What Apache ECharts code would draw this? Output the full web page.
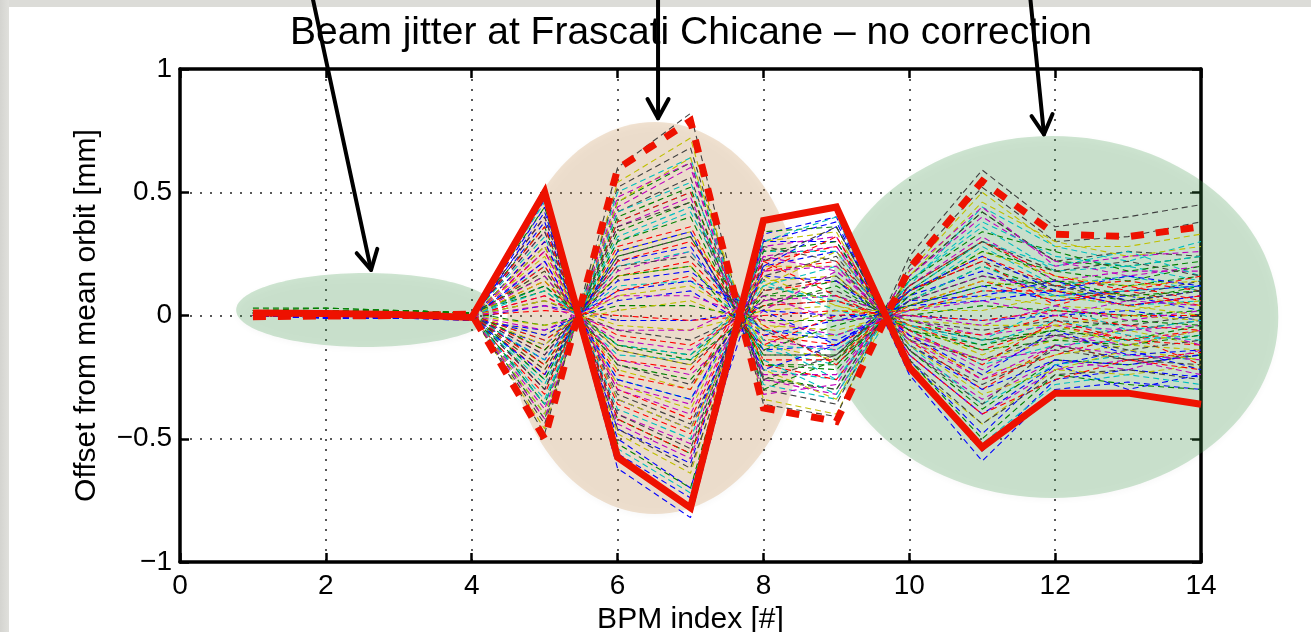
<!DOCTYPE html>
<html>
<head>
<meta charset="utf-8">
<script src="https://cdn.jsdelivr.net/npm/echarts@6/dist/echarts.min.js"></script>
<style>
html,body{margin:0;padding:0;background:#fff;width:1311px;height:632px;overflow:hidden;}
#edgeTop{position:absolute;left:0;top:0;width:1311px;height:7px;background:#dcdcd8;}
#edgeLeft{position:absolute;left:0;top:0;width:9px;height:632px;background:linear-gradient(to right,#d4d4d0,#e0e0dc);}
#chart{position:absolute;left:0;top:0;width:1311px;height:632px;}
</style>
</head>
<body>
<div id="edgeTop"></div><div id="edgeLeft"></div>
<div id="chart"></div>
<script>
// ---------- data ----------
const bpmIndex = [1,2,3,4,5,6,7,8,9,10,11,12,13,14];
const xTicks = [0,2,4,6,8,10,12,14];
const xTickLabels = ['0','2','4','6','8','10','12','14'];
const yTicks = [-1,-0.5,0,0.5,1];
const yTickLabels = ['\u22121','\u22120.5','0','0.5','1'];

// thick red envelopes
const envelopeSolid  = [0.010,0.008,0.004,-0.008, 0.50,-0.575,-0.78, 0.385, 0.44,-0.21,-0.535,-0.315,-0.315,-0.36];
const envelopeDashed = [-0.005,-0.002,0.000,0.006,-0.50, 0.595, 0.79,-0.375,-0.43, 0.19, 0.545, 0.33, 0.32, 0.36];

// individual jitter traces (thin dashed)
const jit01 = [0.01,0.01,0.00,-0.01, 0.47,-0.62,-0.82, 0.33, 0.40,-0.24,-0.59,-0.30,-0.27,-0.30];
const jit02 = [0.02,0.02,0.02,0.01,-0.42, 0.46, 0.62,-0.25,-0.30, 0.16, 0.42, 0.22, 0.20, 0.24];
const jit03 = [0.00,0.00,-0.01,-0.01, 0.30,-0.36,-0.48, 0.22, 0.28,-0.10,-0.30,-0.12,-0.18,-0.15];
const jit04 = [0.01,0.01,0.01,0.00,-0.40, 0.50, 0.64,-0.28,-0.34, 0.12, 0.44, 0.28, 0.22, 0.30];
const jit05 = [0.01,0.00,0.00,0.00, 0.22,-0.28,-0.36, 0.24, 0.18,-0.06,-0.22,-0.08,-0.12,-0.06];
const jit06 = [0.01,0.01,0.01,0.00,-0.46, 0.54, 0.72,-0.34,-0.40, 0.18, 0.50, 0.28, 0.28, 0.33];
const jit07 = [0.01,0.01,0.01,0.01,-0.48, 0.60, 0.82,-0.36,-0.41, 0.24, 0.59, 0.36, 0.40, 0.45];
const jit08 = [0.00,-0.01,-0.01,-0.01, 0.44,-0.56,-0.74, 0.30, 0.38,-0.22,-0.55,-0.26,-0.22,-0.25];
const jit09 = [0.02,0.02,0.01,0.01,-0.30, 0.34, 0.46,-0.20,-0.22, 0.10, 0.30, 0.14, 0.12, 0.16];
const jit10 = [0.00,0.00,0.00,-0.01, 0.26,-0.30,-0.42, 0.18, 0.22,-0.08,-0.26,-0.16,-0.08,-0.20];
const jit11 = [0.01,0.00,0.00,0.00,-0.26, 0.30, 0.42,-0.14,-0.20, 0.08, 0.28, 0.12, 0.16, 0.10];
const jit12 = [0.00,0.00,0.00,0.00, 0.34,-0.40,-0.52, 0.24, 0.28,-0.14,-0.34,-0.18,-0.22,-0.14];
const jit13 = [0.01,0.01,0.00,0.00, 0.40,-0.48,-0.64, 0.30, 0.34,-0.20,-0.44,-0.22,-0.24,-0.20];
const jit14 = [0.01,0.01,0.01,0.00,-0.36, 0.42, 0.56,-0.26,-0.30, 0.16, 0.42, 0.22, 0.26, 0.24];
const jit15 = [0.00,-0.01,-0.01,-0.01, 0.38,-0.46,-0.60, 0.30, 0.30,-0.16,-0.40,-0.20,-0.14,-0.22];
const jit16 = [0.02,0.02,0.01,0.01,-0.20, 0.24, 0.32,-0.16,-0.16, 0.06, 0.20, 0.10, 0.06, 0.12];
const jit17 = [0.00,0.00,0.00,0.00, 0.14,-0.18,-0.22, 0.10, 0.14,-0.04,-0.14,-0.04,-0.10,-0.06];
const jit18 = [0.01,0.01,0.00,0.00,-0.34, 0.38, 0.50,-0.22,-0.26, 0.14, 0.36, 0.18, 0.20, 0.14];
const jit19 = [0.00,0.00,0.00,0.00,-0.16, 0.18, 0.26,-0.10,-0.14, 0.06, 0.16, 0.10, 0.04, 0.08];
const jit20 = [0.01,0.00,0.00,0.00, 0.18,-0.22,-0.30, 0.14, 0.16,-0.08,-0.18,-0.10,-0.06,-0.12];
const jit21 = [0.01,0.01,0.01,0.00, 0.28,-0.32,-0.44, 0.16, 0.24,-0.12,-0.28,-0.14,-0.18,-0.16];
const jit22 = [0.00,0.00,-0.01,-0.01,-0.12, 0.14, 0.18,-0.06,-0.10, 0.04, 0.12, 0.06, 0.08, 0.02];
const jit23 = [0.02,0.02,0.02,0.01, 0.10,-0.12,-0.16, 0.08, 0.08,-0.02,-0.10,-0.06,-0.02,-0.04];
const jit24 = [0.00,0.00,0.00,0.00,-0.24, 0.28, 0.36,-0.18,-0.18, 0.10, 0.24, 0.12, 0.14, 0.10];
const jit25 = [0.01,0.01,0.01,0.00, 0.20,-0.26,-0.34, 0.12, 0.20,-0.06,-0.20,-0.12,-0.10,-0.08];
const jit26 = [0.00,0.00,0.00,0.00,-0.30, 0.36, 0.48,-0.24,-0.24, 0.12, 0.32, 0.14, 0.18, 0.18];
const jit27 = [0.01,0.01,0.00,0.00,-0.08, 0.08, 0.12,-0.04,-0.06, 0.02, 0.08, 0.04, 0.02, 0.06];
const jit28 = [0.01,0.01,0.01,0.00, 0.06,-0.06,-0.10, 0.04, 0.06,-0.02,-0.06,-0.02,-0.04, 0.00];
const jit29 = [0.00,0.00,-0.01,-0.01, 0.04,-0.02,-0.02, 0.02, 0.00, 0.00,-0.02, 0.00, 0.02,-0.02];
const jit30 = [0.02,0.02,0.01,0.01,-0.04, 0.04, 0.04,-0.02,-0.02, 0.00, 0.04, 0.02, 0.00, 0.02];
const jit31 = [0.00,0.00,0.00,0.00, 0.02, 0.00,-0.02, 0.00, 0.02, 0.00,-0.02, 0.02, 0.00, 0.00];
const jit32 = [0.01,0.01,0.00,0.00, 0.32,-0.38,-0.50, 0.26, 0.26,-0.12,-0.36,-0.20,-0.16,-0.18];
const jit33 = [0.00,0.00,0.00,0.00, 0.40,-0.44,-0.58, 0.28, 0.32,-0.16,-0.40,-0.22,-0.18,-0.24];
const jit34 = [0.01,0.01,0.01,0.00,-0.22, 0.26, 0.34,-0.12,-0.18, 0.08, 0.26, 0.16, 0.12, 0.14];
const jit35 = [0.01,0.01,0.00,0.00, 0.12,-0.14,-0.20, 0.06, 0.10,-0.04,-0.10,-0.08,-0.06,-0.02];
const jit36 = [0.00,-0.01,-0.01,-0.01,-0.18, 0.22, 0.28,-0.14,-0.12, 0.08, 0.18, 0.08, 0.10, 0.12];
const jit37 = [0.02,0.02,0.01,0.01, 0.36,-0.42,-0.56, 0.26, 0.30,-0.14,-0.38,-0.18,-0.20,-0.16];
const jit38 = [0.00,0.00,0.00,0.00,-0.14, 0.16, 0.22,-0.08,-0.12, 0.04, 0.14, 0.06, 0.10, 0.04];
const jit39 = [0.01,0.01,0.01,0.00,-0.10, 0.12, 0.14,-0.06,-0.08, 0.02, 0.10, 0.08, 0.04, 0.06];
const jit40 = [0.00,0.00,0.00,0.00, 0.08,-0.10,-0.14, 0.06, 0.08,-0.02,-0.08,-0.04,-0.06,-0.04];
const jit41 = [0.01,0.01,0.00,0.00, 0.24,-0.28,-0.38, 0.20, 0.20,-0.10,-0.24,-0.16,-0.12,-0.14];
const jit42 = [0.01,0.01,0.01,0.00,-0.44, 0.52, 0.68,-0.30,-0.36, 0.20, 0.52, 0.30, 0.32, 0.38];
const jit43 = [0.00,-0.01,-0.01,-0.02,-0.06, 0.06, 0.10,-0.08,-0.02, 0.04, 0.06, 0.10, 0.04, 0.08];
const jit44 = [0.02,0.03,0.02,0.01, 0.16,-0.20,-0.26, 0.08, 0.14,-0.06,-0.14,-0.10,-0.12,-0.08];
const jit45 = [0.00,0.00,0.00,-0.01,-0.32, 0.38, 0.50,-0.20,-0.26, 0.12, 0.30, 0.16, 0.10, 0.16];
const jit46 = [0.01,0.01,0.01,0.00, 0.12,-0.16,-0.18, 0.12, 0.06,-0.04,-0.12,-0.02,-0.08,-0.10];
const jit47 = [0.00,0.00,0.00,0.00,-0.38, 0.44, 0.60,-0.26,-0.32, 0.16, 0.40, 0.22, 0.16, 0.20];
const jit48 = [0.01,0.01,0.00,0.00,-0.12, 0.16, 0.20,-0.10,-0.08, 0.04, 0.14, 0.10, 0.08, 0.04];
const jit49 = [0.01,0.01,0.01,0.00, 0.18,-0.20,-0.28, 0.10, 0.16,-0.10,-0.18,-0.08,-0.14,-0.10];
const jit50 = [0.00,0.00,-0.01,-0.01, 0.30,-0.34,-0.46, 0.20, 0.26,-0.12,-0.30,-0.18,-0.20,-0.16];
const jit51 = [0.02,0.02,0.02,0.01,-0.26, 0.30, 0.40,-0.20,-0.20, 0.08, 0.26, 0.18, 0.14, 0.20];
const jit52 = [0.00,0.00,0.00,0.00, 0.08,-0.08,-0.12, 0.04, 0.06,-0.04,-0.08, 0.00,-0.04,-0.06];
const jit53 = [0.01,0.01,0.00,0.00,-0.18, 0.20, 0.26,-0.12,-0.14, 0.06, 0.20, 0.08, 0.10, 0.12];
const jit54 = [0.00,0.00,0.00,0.00, 0.26,-0.30,-0.40, 0.18, 0.20,-0.10,-0.26,-0.12,-0.16,-0.18];
const jit55 = [0.01,0.01,0.01,0.00, 0.06,-0.04,-0.06, 0.02, 0.04,-0.02,-0.04,-0.04, 0.00,-0.02];
const jit56 = [0.01,0.01,0.01,0.00,-0.22, 0.24, 0.32,-0.16,-0.16, 0.10, 0.22, 0.12, 0.08, 0.14];
const jit57 = [0.01,0.00,-0.01,-0.02, 0.42,-0.50,-0.70, 0.20, 0.36,-0.18,-0.48,-0.20,-0.30,-0.24];
const jit58 = [0.03,0.03,0.02,0.01,-0.36, 0.40, 0.52,-0.30,-0.18, 0.14, 0.34, 0.26, 0.18, 0.22];
const jit59 = [0.00,0.00,0.00,-0.01, 0.20,-0.24,-0.30, 0.22, 0.08,-0.06,-0.20,-0.02,-0.10,-0.12];
const jit60 = [0.01,0.01,0.01,0.00,-0.28, 0.32, 0.44,-0.10,-0.26, 0.10, 0.30, 0.20, 0.26, 0.16];
const jit61 = [0.00,0.00,0.00,0.00, 0.16,-0.18,-0.24, 0.02, 0.18,-0.08,-0.18,-0.14,-0.04,-0.12];
const jit62 = [0.01,0.01,0.00,0.00,-0.40, 0.46, 0.64,-0.22,-0.34, 0.16, 0.46, 0.30, 0.24, 0.28];
const jit63 = [0.01,0.01,0.01,0.00, 0.34,-0.40,-0.54, 0.28, 0.22,-0.14,-0.36,-0.12,-0.18,-0.20];
const jit64 = [0.00,-0.01,-0.01,-0.01,-0.08, 0.10, 0.14, 0.02,-0.12, 0.06, 0.08, 0.14, 0.06, 0.10];
const jit65 = [0.02,0.02,0.02,0.01, 0.44,-0.52,-0.70, 0.34, 0.36,-0.18,-0.50,-0.24,-0.28,-0.30];
const jit66 = [0.00,0.00,0.00,0.00,-0.20, 0.22, 0.30,-0.04,-0.20, 0.10, 0.22, 0.04, 0.12, 0.06];
const jit67 = [0.01,0.01,0.00,0.00, 0.10,-0.12,-0.16, 0.14, 0.02,-0.04,-0.10, 0.04,-0.06,-0.02];
const jit68 = [0.00,0.00,0.00,0.00,-0.42, 0.48, 0.62,-0.32,-0.28, 0.18, 0.44, 0.20, 0.24, 0.26];
const jit69 = [0.01,0.01,0.01,0.00, 0.28,-0.34,-0.46, 0.12, 0.26,-0.12,-0.32,-0.22,-0.14,-0.18];
const jit70 = [0.01,0.01,0.01,0.00,-0.30, 0.36, 0.46,-0.26,-0.16, 0.12, 0.30, 0.18, 0.22, 0.16];
const jit71 = [0.00,0.00,-0.01,-0.01, 0.22,-0.26,-0.34, 0.16, 0.14,-0.08,-0.24,-0.06,-0.16,-0.14];
const jit72 = [0.02,0.02,0.01,0.01,-0.14, 0.16, 0.20,-0.14,-0.04, 0.04, 0.12, 0.14, 0.08, 0.10];
const jit73 = [0.00,0.00,0.00,0.00, 0.36,-0.42,-0.56, 0.18, 0.32,-0.16,-0.40,-0.26,-0.18,-0.22];
const jit74 = [0.01,0.01,0.01,0.00,-0.36, 0.42, 0.54,-0.18,-0.32, 0.14, 0.38, 0.24, 0.20, 0.24];
const jit75 = [0.00,0.00,0.00,0.00, 0.04,-0.06,-0.06, 0.08,-0.02, 0.00,-0.04, 0.04,-0.02, 0.02];
const jit76 = [0.01,0.01,0.00,0.00,-0.04, 0.02, 0.06,-0.06, 0.02, 0.02, 0.02, 0.08, 0.04, 0.00];
const jit77 = [0.01,0.01,0.01,0.00, 0.40,-0.46,-0.62, 0.22, 0.36,-0.18,-0.44,-0.24,-0.22,-0.26];
const jit78 = [0.00,-0.01,-0.01,-0.01,-0.24, 0.26, 0.34,-0.22,-0.12, 0.10, 0.24, 0.10, 0.16, 0.12];
const jit79 = [0.02,0.02,0.02,0.01, 0.12,-0.12,-0.18, 0.04, 0.12,-0.06,-0.12,-0.06,-0.10,-0.04];
const jit80 = [0.00,0.00,0.00,0.00,-0.10, 0.10, 0.16,-0.12, 0.00, 0.02, 0.10, 0.10, 0.04, 0.08];
const jit81 = [0.01,0.01,0.01,0.00, 0.46,-0.54,-0.72, 0.30, 0.40,-0.20,-0.52,-0.28,-0.24,-0.28];
const jit82 = [0.00,0.00,0.00,0.00,-0.06, 0.08, 0.08,-0.02,-0.08, 0.02, 0.06, 0.00, 0.06, 0.04];
const jit83 = [0.01,0.01,0.00,0.00, 0.14,-0.14,-0.20, 0.16, 0.04,-0.04,-0.16,-0.04,-0.12,-0.06];
const jit84 = [0.01,0.01,0.01,0.00,-0.16, 0.20, 0.24,-0.06,-0.18, 0.06, 0.16, 0.12, 0.06, 0.10];

const jitterTraces = [jit01,jit02,jit03,jit04,jit05,jit06,jit07,jit08,jit09,jit10,jit11,jit12,jit13,jit14,
  jit15,jit16,jit17,jit18,jit19,jit20,jit21,jit22,jit23,jit24,jit25,jit26,jit27,jit28,
  jit29,jit30,jit31,jit32,jit33,jit34,jit35,jit36,jit37,jit38,jit39,jit40,jit41,jit42,
  jit43,jit44,jit45,jit46,jit47,jit48,jit49,jit50,jit51,jit52,jit53,jit54,jit55,jit56,
  jit57,jit58,jit59,jit60,jit61,jit62,jit63,jit64,jit65,jit66,jit67,jit68,jit69,jit70,
  jit71,jit72,jit73,jit74,jit75,jit76,jit77,jit78,jit79,jit80,jit81,jit82,jit83,jit84];

// annotation shapes (in data units)
const highlightRegions = [
  {cx: 2.55, cy: 0.022, rx: 1.78, ry: 0.15, fill: 'rgba(60,150,70,0.25)'},
  {cx: 6.51, cy: -0.01, rx: 2.02, ry: 0.795, fill: 'rgba(200,140,70,0.25)'},
  {cx: 11.96, cy: -0.006, rx: 3.10, ry: 0.734, fill: 'rgba(60,150,70,0.25)'}
];
const arrows = [
  {from: [1.81, 1.30], to: [2.62, 0.185]},
  {from: [6.555, 1.30], to: [6.555, 0.80]},
  {from: [11.655, 1.30], to: [11.847, 0.735]}
];

// ---------- chart ----------
const traceColors = ['#0000ff','#008000','#ff0000','#00bfbf','#bf00bf','#bfbf00','#404040'];
const FONT = "'Liberation Sans', Helvetica, Arial, sans-serif";
const chart = echarts.init(document.getElementById('chart'), null, {renderer: 'canvas', width: 1311, height: 632});

function pairs(vals){ return bpmIndex.map((x,i)=>[x, vals[i]]); }
function labelFor(ticks, labels){
  return v => { const k = ticks.findIndex(t => Math.abs(t - v) < 1e-9); return k >= 0 ? labels[k] : ''; };
}

const series = jitterTraces.map((tr, i) => ({
  type: 'line', data: pairs(tr), symbol: 'none', silent: true, z: 2,
  lineStyle: {color: traceColors[i % traceColors.length], width: 1.1, type: [6, 4]}
}));
series.push({
  type: 'line', data: pairs(envelopeDashed), symbol: 'none', silent: true, z: 3,
  lineStyle: {color: '#ee1100', width: 7, type: [13, 12], cap: 'butt', join: 'miter'}
});
series.push({
  type: 'line', data: pairs(envelopeSolid), symbol: 'none', silent: true, z: 3,
  lineStyle: {color: '#ee1100', width: 7, type: 'solid', join: 'miter'}
});

const axisLineStyle = {color: '#000', width: 3.5};
const option = {
  animation: false,
  title: {
    text: 'Beam jitter at Frascati Chicane \u2013 no correction',
    left: 686, top: 9, textAlign: 'center',
    textStyle: {fontFamily: FONT, fontSize: 39, fontWeight: 'normal', color: '#000'}
  },
  grid: {left: 180, top: 69, width: 1021, height: 493, containLabel: false, outerBoundsMode: 'none'},
  xAxis: [{
    type: 'value', min: 0, max: 14, interval: 2,
    name: 'BPM index [#]', nameLocation: 'middle', nameGap: 36,
    nameTextStyle: {fontFamily: FONT, fontSize: 30, color: '#000'},
    axisLine: {onZero: false, lineStyle: axisLineStyle},
    axisTick: {inside: true, length: 9, lineStyle: {color: '#000', width: 2.5}},
    axisLabel: {fontFamily: FONT, fontSize: 28, color: '#000', margin: 10, formatter: labelFor(xTicks, xTickLabels)},
    splitLine: {show: true, lineStyle: {color: '#222', width: 1.5, type: [2, 8]}}
  }, {
    type: 'value', min: 0, max: 14, interval: 2, position: 'top',
    axisLine: {onZero: false, lineStyle: axisLineStyle},
    axisTick: {inside: true, length: 9, lineStyle: {color: '#000', width: 2.5}},
    axisLabel: {show: false}, splitLine: {show: false}
  }],
  yAxis: [{
    type: 'value', min: -1, max: 1, interval: 0.5,
    name: 'Offset from mean orbit [mm]', nameLocation: 'middle', nameGap: 78, nameRotate: 90,
    nameTextStyle: {fontFamily: FONT, fontSize: 30, color: '#000'},
    axisLine: {onZero: false, lineStyle: axisLineStyle},
    axisTick: {inside: true, length: 9, lineStyle: {color: '#000', width: 2.5}},
    axisLabel: {fontFamily: FONT, fontSize: 28, color: '#000', margin: 8, formatter: labelFor(yTicks, yTickLabels)},
    splitLine: {show: true, lineStyle: {color: '#222', width: 1.5, type: [2, 8]}}
  }, {
    type: 'value', min: -1, max: 1, interval: 0.5, position: 'right',
    axisLine: {onZero: false, lineStyle: axisLineStyle},
    axisTick: {inside: true, length: 9, lineStyle: {color: '#000', width: 2.5}},
    axisLabel: {show: false}, splitLine: {show: false}
  }],
  series: series
};
chart.setOption(option);

// annotations placed through the chart's own coordinate conversion
function px(p){ return chart.convertToPixel({gridIndex: 0}, p); }
const graphics = [];
highlightRegions.forEach(r => {
  const c = px([r.cx, r.cy]);
  const ex = px([r.cx + r.rx, r.cy]);
  const ey = px([r.cx, r.cy + r.ry]);
  graphics.push({
    type: 'ellipse', silent: true, z: 1,
    shape: {cx: c[0], cy: c[1], rx: Math.abs(ex[0] - c[0]), ry: Math.abs(c[1] - ey[1])},
    style: {fill: r.fill, shadowBlur: 6, shadowColor: 'rgba(0,0,0,0.12)', shadowOffsetY: 2}
  });
});
arrows.forEach(a => {
  const p0 = px(a.from), p1 = px(a.to);
  const ang = Math.atan2(p1[1] - p0[1], p1[0] - p0[0]);
  const L = 22, spread = 0.5;
  const h1 = [p1[0] - L * Math.cos(ang - spread), p1[1] - L * Math.sin(ang - spread)];
  const h2 = [p1[0] - L * Math.cos(ang + spread), p1[1] - L * Math.sin(ang + spread)];
  graphics.push({
    type: 'polyline', silent: true, z: 20,
    shape: {points: [p0, p1]},
    style: {stroke: '#000', lineWidth: 4, lineCap: 'round', fill: null}
  });
  graphics.push({
    type: 'polyline', silent: true, z: 20,
    shape: {points: [h1, p1, h2]},
    style: {stroke: '#000', lineWidth: 4, lineCap: 'round', lineJoin: 'round', fill: null}
  });
});
chart.setOption({graphic: graphics});
</script>
</body>
</html>
